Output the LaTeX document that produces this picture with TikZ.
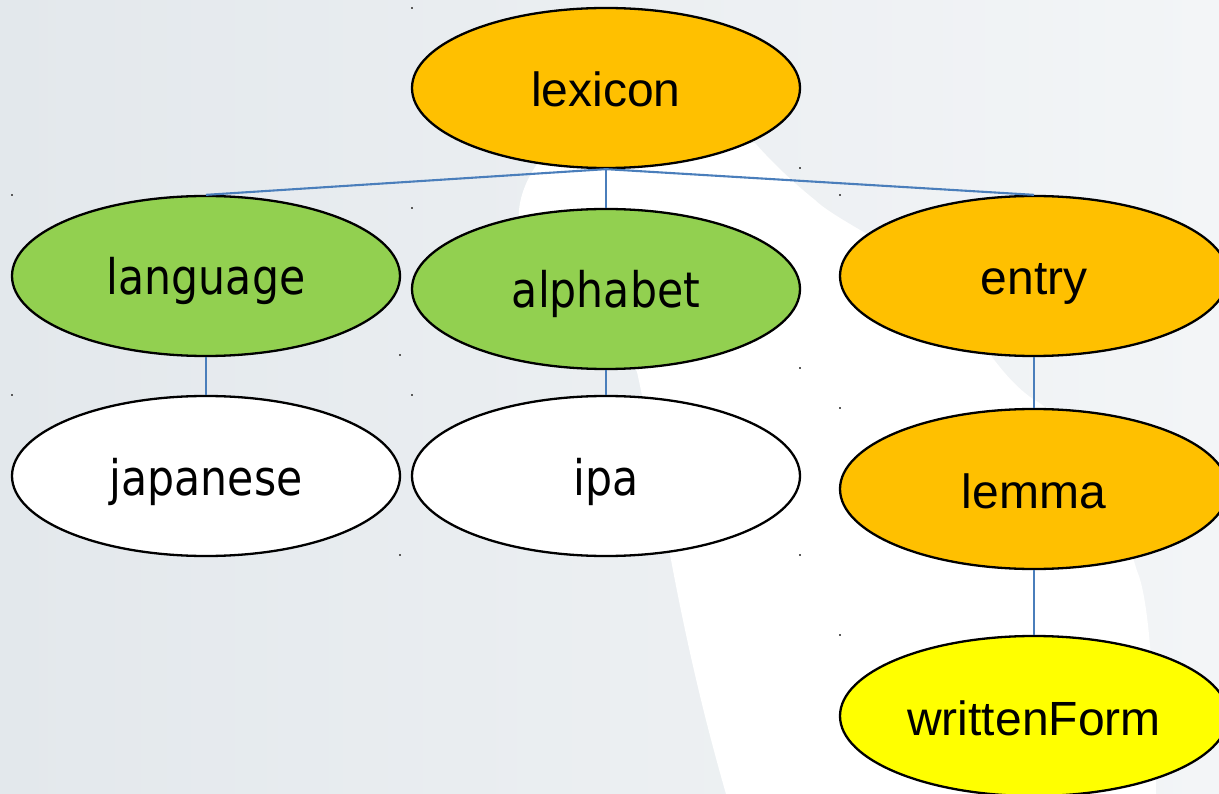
\documentclass[tikz,border=0pt]{standalone}
\usepackage{fontspec}
\setmainfont{Liberation Sans}
\newfontfamily\dvfont[FakeStretch=0.87]{DejaVu Sans}
\usetikzlibrary{shapes.geometric}
\definecolor{bgL}{RGB}{227,232,236}
\definecolor{bgR}{RGB}{243,245,247}
\definecolor{orangeF}{HTML}{FFC000}
\definecolor{greenF}{HTML}{92D050}
\definecolor{yellowF}{HTML}{FFFF00}
\definecolor{connC}{HTML}{4A7EBB}
\definecolor{dotC}{RGB}{90,90,90}
\tikzset{
  ell/.style={ellipse, draw=black, line width=2.3pt, minimum width=388pt, minimum height=160pt,
    inner sep=0pt, text height=38pt, text depth=0pt},
  arialtxt/.style={font=\fontsize{48}{48}\selectfont},
  dvtxt/.style={font=\dvfont\fontsize{49}{49}\selectfont},
  conn/.style={draw=connC, line width=2.1pt},
  guide/.style={fill=dotC}
}
\begin{document}
\begin{tikzpicture}[x=1pt,y=-1pt]
\useasboundingbox (0,0) rectangle (1219,794);
% background
\fill[left color=bgL, right color=bgR] (0,0) rectangle (1219,794);
\fill[white] (540,160) .. controls (525,180) and (515,205) .. (520,230)
  .. controls (540,300) and (620,330) .. (637,372)
  .. controls (655,450) and (670,600) .. (726,794)
  -- (1156,794)
  .. controls (1155,700) and (1150,600) .. (1137,571)
  .. controls (1110,480) and (1070,420) .. (1033,399)
  .. controls (990,370) and (960,300) .. (927,270)
  .. controls (880,240) and (830,215) .. (815,200)
  .. controls (790,180) and (770,160) .. (755,143) -- cycle;
% guide dots
\foreach \p in {(412,8),(12,195),(412,208),(800,168),(840,195),(400,355),(12,395),(412,395),(800,368),(840,408),(400,555),(800,555),(840,635)}
  \fill[guide] \p ++(-1,-1) rectangle ++(2,2);
% nodes
\node[ell, fill=orangeF, arialtxt] (lexicon) at (606,88) {lexicon};
\node[ell, fill=greenF, dvtxt] (language) at (206,276) {language};
\node[ell, fill=greenF, dvtxt] (alphabet) at (606,289) {alphabet};
\node[ell, fill=orangeF, arialtxt] (entry) at (1034,276) {entry};
\node[ell, fill=white, dvtxt] (japanese) at (206,476) {japanese};
\node[ell, fill=white, dvtxt] (ipa) at (606,476) {ipa};
\node[ell, fill=orangeF, arialtxt] (lemma) at (1034,489) {lemma};
\node[ell, fill=yellowF, arialtxt] (writtenForm) at (1034,716) {writtenForm};
% connectors
\draw[conn] (lexicon.south) -- (language.north);
\draw[conn] (lexicon.south) -- (alphabet.north);
\draw[conn] (lexicon.south) -- (entry.north);
\draw[conn] (language.south) -- (japanese.north);
\draw[conn] (alphabet.south) -- (ipa.north);
\draw[conn] (entry.south) -- (lemma.north);
\draw[conn] (lemma.south) -- (writtenForm.north);
\end{tikzpicture}
\end{document}
